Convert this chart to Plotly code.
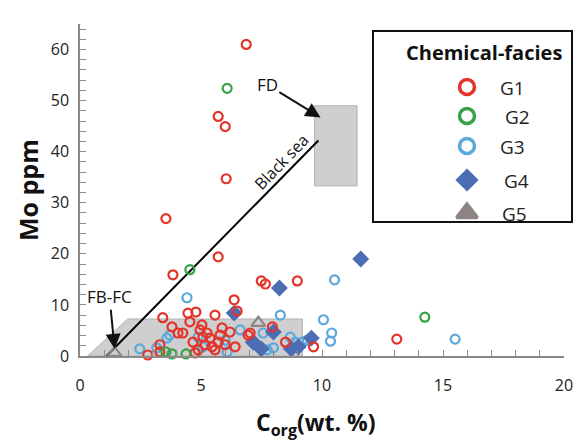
import plotly.graph_objects as go

# ---- data (Corg wt.%, Mo ppm) ----
g1_x = [6.87, 5.71, 6.00, 6.04, 3.55, 5.71, 3.84, 7.49, 7.66, 8.98, 6.37, 3.42, 3.80, 4.05, 4.25,
        4.54, 4.79, 5.04, 5.25, 5.08, 5.37, 5.46, 5.58, 5.87, 5.79, 6.20, 4.67, 4.88, 4.75, 7.03,
        6.41, 6.49, 7.95, 8.49, 9.65, 2.80, 3.30, 3.30, 13.09, 6.95, 5.17, 5.58, 4.96, 4.46, 5.71, 6.00]
g1_y = [61.0, 46.9, 44.9, 34.7, 26.9, 19.4, 15.9, 14.7, 14.1, 14.7, 11.0, 7.5, 5.7, 4.5, 4.5,
        6.7, 8.6, 6.1, 4.5, 3.7, 3.5, 1.8, 8.0, 5.5, 4.1, 4.7, 2.7, 1.2, 0.6, 4.5,
        1.8, 8.8, 5.7, 2.7, 1.8, 0.2, 0.8, 2.2, 3.3, 4.1, 2.2, 1.2, 5.1, 8.4, 2.7, 2.2]

g2_x = [6.08, 4.54, 14.25, 3.55, 3.80, 4.38]
g2_y = [52.4, 16.9, 7.6, 0.8, 0.4, 0.4]

g3_x = [4.42, 2.47, 3.17, 3.59, 3.71, 4.88, 6.00, 6.62, 5.08, 6.08, 8.28, 10.06, 7.57, 7.74,
        7.99, 8.69, 8.90, 9.19, 9.40, 10.40, 10.35, 10.52, 15.50]
g3_y = [11.4, 1.4, 1.6, 3.5, 4.1, 3.7, 3.1, 5.1, 1.8, 0.8, 8.0, 7.1, 4.5, 1.2,
        1.6, 3.7, 2.7, 2.7, 3.1, 4.5, 2.9, 14.9, 3.3]

g4_x = [11.60, 8.24, 6.37, 7.99, 7.16, 7.49, 8.73, 9.02, 9.56]
g4_y = [19.0, 13.3, 8.4, 4.7, 2.7, 1.4, 1.4, 1.8, 3.5]

g5_x = [1.43, 7.37]
g5_y = [0.6, 6.5]

groups = ["G1", "G2", "G3", "G4", "G5"]
x_ticks = [0, 5, 10, 15, 20]
y_ticks = [0, 10, 20, 30, 40, 50, 60]

RED = "#e3342b"
GREEN = "#35a247"
LBLUE = "#5ba8dc"
DBLUE = "#4b6db4"
GREY = "#8c8483"
FONT = "Open Sans"

fig = go.Figure()

def open_circle(x, y, color, name):
    return go.Scatter(x=x, y=y, mode="markers", name=name, showlegend=False,
                      marker=dict(symbol="circle-open", size=9, color=color,
                                  line=dict(width=2.2, color=color)),
                      cliponaxis=False)

fig.add_trace(open_circle(g3_x, g3_y, LBLUE, "G3"))
fig.add_trace(go.Scatter(x=g4_x, y=g4_y, mode="markers", name="G4", showlegend=False,
                         marker=dict(symbol="diamond", size=13, color=DBLUE), cliponaxis=False))
fig.add_trace(open_circle(g1_x, g1_y, RED, "G1"))
fig.add_trace(open_circle(g2_x, g2_y, GREEN, "G2"))
fig.add_trace(go.Scatter(x=g5_x, y=g5_y, mode="markers", name="G5", showlegend=False,
                         marker=dict(symbol="triangle-up-open", size=12, color=GREY,
                                     line=dict(width=2.2, color=GREY)), cliponaxis=False))

W, H = 580, 443
L, R, T, B = 80, 16, 24, 87
pw, ph = W - L - R, H - T - B

# ---- custom legend on a pixel-coordinate overlay axis ----
leg_px_x = 467
leg_px_y = [87, 116, 146, 180, 213]
leg_sym = ["circle-open", "circle-open", "circle-open", "diamond", "triangle-up"]
leg_col = [RED, GREEN, LBLUE, DBLUE, GREY]
leg_size = [15, 15, 15, 14, 18]
leg_txt_x = [498, 503, 498, 502, 500]
for i, g in enumerate(groups):
    fig.add_trace(go.Scatter(x=[leg_px_x], y=[leg_px_y[i]], xaxis="x2", yaxis="y2",
                             mode="markers", showlegend=False, hoverinfo="skip",
                             marker=dict(symbol=leg_sym[i], size=leg_size[i], color=leg_col[i],
                                         line=dict(width=3.5, color=leg_col[i]))))
    fig.add_annotation(x=leg_txt_x[i], y=leg_px_y[i] + 1, xref="x2", yref="y2", text=g,
                       showarrow=False, xanchor="left", yanchor="middle",
                       font=dict(family=FONT, size=19, color="#222"))
fig.add_annotation(x=484, y=52, xref="x2", yref="y2", text="<b>Chemical-facies</b>",
                   showarrow=False, xanchor="center", yanchor="middle",
                   font=dict(family=FONT, size=20, color="#111"))

def px2paper(px, py):
    return (px - L) / pw, (H - B - py) / ph

bx0, by0 = px2paper(373, 222)
bx1, by1 = px2paper(572, 31)
shapes = [
    # FB-FC field
    dict(type="path", xref="x", yref="y", path="M 0.31 0 L 1.97 7.25 L 9.19 7.25 L 9.19 0 Z",
         fillcolor="#cfcfcf", line=dict(color="#b3b3b3", width=1), layer="below"),
    # FD field
    dict(type="rect", xref="x", yref="y", x0=9.69, x1=11.45, y0=33.3, y1=49.0,
         fillcolor="#cfcfcf", line=dict(color="#b3b3b3", width=1), layer="below"),
    # Black sea trend
    dict(type="line", xref="x", yref="y", x0=1.10, y0=0, x1=9.85, y1=42.2,
         line=dict(color="black", width=2), layer="below"),
    # legend box
    dict(type="rect", xref="paper", yref="paper", x0=bx0, x1=bx1, y0=by0, y1=by1,
         line=dict(color="#111", width=2), fillcolor="rgba(0,0,0,0)"),
]

annotations = [
    dict(x=8.32, y=38.0, xref="x", yref="y", text="Black sea", showarrow=False,
         textangle=-46, font=dict(family=FONT, size=16, color="#111")),
    dict(x=9.94, y=46.7, xref="x", yref="y", ax=7.74, ay=53.1, axref="x", ayref="y",
         text="FD", showarrow=True, arrowhead=2, arrowsize=1.5, arrowwidth=2, arrowcolor="#111",
         font=dict(family=FONT, size=17, color="#111")),
    dict(x=1.43, y=1.4, xref="x", yref="y", ax=1.22, ay=11.6, axref="x", ayref="y",
         text="FB-FC", showarrow=True, arrowhead=2, arrowsize=1.5, arrowwidth=2, arrowcolor="#111",
         font=dict(family=FONT, size=17, color="#111")),
]
tx, ty = px2paper(28, 190)
annotations.append(dict(x=tx, y=ty, xref="paper", yref="paper", text="<b>Mo ppm</b>",
                        showarrow=False, textangle=-90, xanchor="center", yanchor="middle",
                        font=dict(family=FONT, size=25, color="#111")))
tx, ty = px2paper(316, 423)
annotations.append(dict(x=tx, y=ty, xref="paper", yref="paper",
                        text="<b>C<sub>org</sub>(wt. %)</b>", showarrow=False,
                        xanchor="center", yanchor="middle",
                        font=dict(family=FONT, size=23, color="#111")))
for a in annotations:
    fig.add_annotation(**a)

fig.update_layout(
    width=W, height=H, margin=dict(l=L, r=R, t=T, b=B, autoexpand=False),
    paper_bgcolor="white", plot_bgcolor="white",
    shapes=shapes, showlegend=False,
    font=dict(family=FONT, color="#222"),
    xaxis=dict(range=[0, 20], tickvals=x_ticks, ticks="inside", ticklen=6, tickwidth=1.2,
               tickcolor="#8a8a8a", showline=True, linecolor="#8a8a8a", linewidth=1.5,
               showgrid=False, zeroline=False, tickfont=dict(size=16, family=FONT, color="#222"),
               ticklabelstandoff=14,
               minor=dict(dtick=1, ticks="inside", ticklen=6, tickcolor="#8a8a8a", tickwidth=1.2)),
    yaxis=dict(range=[0, 65], tickvals=y_ticks, ticks="inside", ticklen=6, tickwidth=1.2,
               tickcolor="#8a8a8a", showline=True, linecolor="#8a8a8a", linewidth=1.5,
               showgrid=False, zeroline=False, tickfont=dict(size=16, family=FONT, color="#222"),
               ticklabelstandoff=6,
               minor=dict(tick0=0, dtick=2, ticks="inside", ticklen=6, tickcolor="#8a8a8a", tickwidth=1.2)),
    xaxis2=dict(range=[L, W - R], domain=[0, 1], overlaying="x", visible=False, fixedrange=True),
    yaxis2=dict(range=[H - B, T], domain=[0, 1], overlaying="y", visible=False, fixedrange=True),
)

fig.write_html("out.html", config={"displayModeBar": False},
               post_script="document.body.style.margin='0';document.body.style.padding='0';"
                           "document.documentElement.style.overflow='hidden';")
